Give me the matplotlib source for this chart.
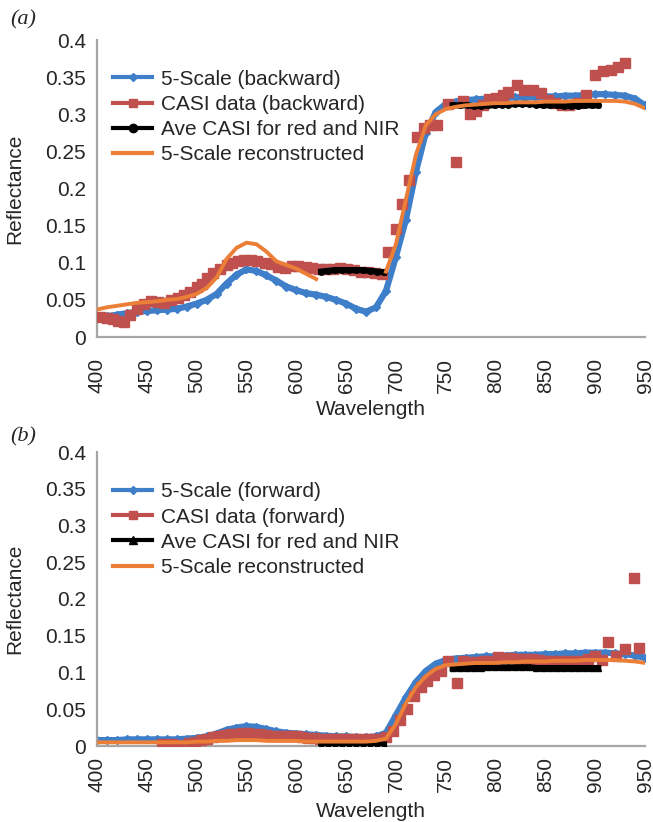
import numpy as np
import matplotlib
matplotlib.use("Agg")
import matplotlib.pyplot as plt
from matplotlib.lines import Line2D

plt.rcParams['font.family'] = ['Liberation Sans', 'DejaVu Sans']

# ---------------- data ----------------
wl_model = list(range(400, 951, 10))

# panel (a) backward
blue_a = [0.026, 0.028, 0.030, 0.032, 0.034, 0.035, 0.036, 0.037, 0.038, 0.041,
          0.045, 0.050, 0.058, 0.072, 0.084, 0.091, 0.089, 0.083, 0.076, 0.068,
          0.063, 0.059, 0.057, 0.054, 0.050, 0.045, 0.038, 0.034, 0.040, 0.062,
          0.108, 0.158, 0.222, 0.275, 0.303, 0.314, 0.317, 0.319, 0.320, 0.321,
          0.322, 0.322, 0.323, 0.323, 0.323, 0.324, 0.324, 0.325, 0.325, 0.326,
          0.327, 0.327, 0.326, 0.325, 0.321, 0.312]
orange_a = [0.037, 0.040, 0.042, 0.044, 0.046, 0.047, 0.048, 0.050, 0.051, 0.054,
            0.058, 0.066, 0.080, 0.105, 0.120, 0.127, 0.125, 0.115, 0.102, 0.097,
            0.092, 0.085, 0.078, np.nan, np.nan, np.nan, np.nan, np.nan, np.nan, 0.088,
            0.125, 0.185, 0.245, 0.285, 0.300, 0.307, 0.310, 0.312, 0.313, 0.314,
            0.315, 0.315, 0.316, 0.316, 0.316, 0.317, 0.317, 0.317, 0.318, 0.318,
            0.318, 0.318, 0.318, 0.317, 0.314, 0.308]

casi_wl_a = [403, 410, 416, 421, 427, 433, 440, 447, 454, 461, 467, 474, 481, 487, 493,
             500, 505, 510, 516, 523, 530, 535, 542, 548, 555, 561, 569, 575, 582, 589,
             596, 602, 610, 616, 623, 630, 637, 644, 651, 658, 665, 672, 679, 686, 692,
             700, 706, 713, 721, 728, 734, 741, 752, 760, 767, 774, 780, 787, 793, 800,
             807, 813, 822, 829, 838, 846, 853, 860, 867, 874, 883, 891, 900, 908, 916,
             923, 930]
casi_a = [0.027, 0.025, 0.024, 0.022, 0.020, 0.030, 0.038, 0.045, 0.048, 0.047, 0.046, 0.050, 0.052, 0.057, 0.060,
          0.068, 0.072, 0.080, 0.086, 0.092, 0.097, 0.100, 0.102, 0.104, 0.104, 0.102, 0.100, 0.098, 0.094, 0.093,
          0.095, 0.095, 0.094, 0.093, 0.092, 0.092, 0.092, 0.093, 0.092, 0.090, 0.088, 0.087, 0.086, 0.085, 0.114,
          0.145, 0.179, 0.212, 0.270, 0.282, 0.285, 0.286, 0.314, 0.236, 0.318, 0.300, 0.305, 0.313, 0.320, 0.322,
          0.326, 0.330, 0.339, 0.332, 0.333, 0.328, 0.319, 0.315, 0.313, 0.313, 0.315, 0.326, 0.353, 0.358, 0.360,
          0.363, 0.369]

ave_wl = [625, 632, 639, 646, 653, 660, 667, 674, 681, 688, np.nan,
          757, 764, 771, 778, 785, 792, 799, 806, 813, 820, 827, 834, 841, 848,
          855, 862, 869, 876, 883, 890, 897, 903]
ave_a = [0.088, 0.089, 0.090, 0.090, 0.090, 0.090, 0.090, 0.089, 0.088, 0.087, np.nan,
         0.312, 0.312, 0.312, 0.311, 0.311, 0.312, 0.312, 0.313, 0.313, 0.314, 0.314, 0.314, 0.313, 0.312,
         0.312, 0.312, 0.311, 0.311, 0.311, 0.312, 0.312, 0.312]

# panel (b) forward
blue_b = [0.008, 0.008, 0.008, 0.009, 0.009, 0.009, 0.009, 0.009, 0.009, 0.010,
          0.011, 0.013, 0.017, 0.022, 0.025, 0.027, 0.026, 0.023, 0.020, 0.018,
          0.017, 0.016, 0.015, 0.014, 0.013, 0.013, 0.012, 0.012, 0.013, 0.018,
          0.042, 0.066, 0.087, 0.102, 0.112, 0.117, 0.119, 0.120, 0.121, 0.122,
          0.122, 0.123, 0.124, 0.124, 0.124, 0.125, 0.125, 0.126, 0.126, 0.127,
          0.127, 0.127, 0.126, 0.125, 0.123, 0.120]
orange_b = [0.005, 0.005, 0.005, 0.005, 0.005, 0.005, 0.005, 0.005, 0.005, 0.005,
            0.006, 0.006, 0.007, 0.007, 0.008, 0.008, 0.008, 0.007, 0.007, 0.007,
            0.007, 0.006, 0.006, 0.006, 0.006, 0.006, 0.006, 0.006, 0.007, 0.010,
            0.030, 0.058, 0.080, 0.095, 0.105, 0.110, 0.111, 0.112, 0.113, 0.113,
            0.113, 0.114, 0.114, 0.115, 0.115, 0.115, 0.116, 0.116, 0.116, 0.117,
            0.117, 0.117, 0.117, 0.116, 0.115, 0.113]

casi_wl_b = [465, 470, 475, 480, 486, 492, 498, 504, 510, 516, 522, 528, 534, 540, 546,
             552, 558, 564, 570, 576, 582, 588, 594, 600, 606, 612, 618, 624, 630, 636,
             642, 648, 654, 660, 666, 672, 678, 684, 690, 697, 704, 711, 718, 725, 731,
             738, 745, 752, 761, 767, 774, 781, 788, 795, 802, 809, 816, 823, 830, 837,
             844, 851, 858, 865, 872, 879, 886, 893, 900, 907, 913, 921, 930, 939, 944]
casi_b = [0.003, 0.001, 0.003, 0.000, 0.002, 0.004, 0.006, 0.008, 0.010, 0.012, 0.013, 0.015, 0.016, 0.017, 0.018,
          0.018, 0.017, 0.016, 0.015, 0.014, 0.014, 0.013, 0.013, 0.013, 0.012, 0.011, 0.011, 0.010, 0.010, 0.010,
          0.009, 0.009, 0.009, 0.009, 0.009, 0.009, 0.009, 0.009, 0.012, 0.020, 0.035, 0.050, 0.068, 0.080, 0.088,
          0.097, 0.102, 0.116, 0.086, 0.116, 0.114, 0.114, 0.115, 0.116, 0.121, 0.120, 0.120, 0.119, 0.118, 0.118,
          0.117, 0.116, 0.115, 0.115, 0.115, 0.115, 0.116, 0.118, 0.123, 0.117, 0.142, 0.123, 0.132, 0.229, 0.134]

ave_b = [0.002, 0.002, 0.002, 0.002, 0.002, 0.002, 0.002, 0.002, 0.002, 0.002, np.nan,
         0.106, 0.106, 0.106, 0.106, 0.106, 0.107, 0.107, 0.107, 0.107, 0.107, 0.107, 0.107, 0.106, 0.106,
         0.106, 0.106, 0.106, 0.106, 0.106, 0.106, 0.106, 0.106]

xticks = [400, 450, 500, 550, 600, 650, 700, 750, 800, 850, 900, 950]
yticks = [0, 0.05, 0.1, 0.15, 0.2, 0.25, 0.3, 0.35, 0.4]
ytick_labels = ['0', '0.05', '0.1', '0.15', '0.2', '0.25', '0.3', '0.35', '0.4']

labels_a = ['5-Scale (backward)', 'CASI data (backward)', 'Ave CASI for red and NIR', '5-Scale reconstructed']
labels_b = ['5-Scale (forward)', 'CASI data (forward)', 'Ave CASI for red and NIR', '5-Scale reconstructed']

# ---------------- style ----------------
BLUE = '#3f7fca'
RED = '#c0504d'
BLACK = '#000000'
ORANGE = '#ec7f37'
GRAY = '#a6a6a6'
TXT = '#262626'
FS = 15

W, H = 653, 822
fig = plt.figure(figsize=(W / 100, H / 100), dpi=100)

def axes_px(left, right, top, bottom):
    return fig.add_axes([left / W, 1 - bottom / H, (right - left) / W, (bottom - top) / H])

ax_a = axes_px(97, 645, 40, 337)
ax_b = axes_px(97, 645, 452, 746)

def draw(ax, blue, orange, casi_wl, casi, ave, ave_marker, labels, xpad, leg_top, wl_label_y):
    ax.plot(wl_model, blue, color=BLUE, lw=4.5, marker='D', ms=4, mec=BLUE, zorder=2)
    ax.plot(casi_wl, casi, ls='none', marker='s', ms=6.5, color=RED, mec=RED, zorder=3)
    ax.plot(ave_wl, ave, color=BLACK, lw=4.5, marker=ave_marker, ms=4, zorder=4)
    ax.plot(wl_model, orange, color=ORANGE, lw=2.8, zorder=5)

    ax.set_xlim(400, 950)
    ax.set_ylim(0, 0.4)
    ax.set_xticks(xticks)
    ax.set_xticklabels([str(v) for v in xticks], rotation=90)
    ax.set_yticks(yticks)
    ax.set_yticklabels(ytick_labels)
    ax.tick_params(axis='both', length=0, labelsize=FS, colors=TXT)
    ax.tick_params(axis='x', pad=xpad)
    ax.tick_params(axis='y', pad=8)
    for s in ['top', 'right']:
        ax.spines[s].set_visible(False)
    for s in ['left', 'bottom']:
        ax.spines[s].set_color(GRAY)
        ax.spines[s].set_linewidth(1.6)
    ax.set_ylabel('Reflectance', fontsize=FS, color=TXT)
    ax.set_xlabel('Wavelength', fontsize=FS, color=TXT)
    ax.yaxis.set_label_coords(-0.133, 0.5)
    ax.xaxis.set_label_coords(0.5, wl_label_y)

    handles = [
        Line2D([], [], color=BLUE, lw=3, marker='D', ms=4),
        Line2D([], [], color=RED, lw=3, marker='s', ms=6),
        Line2D([], [], color=BLACK, lw=3, marker=ave_marker, ms=6),
        Line2D([], [], color=ORANGE, lw=3),
    ]
    ax.legend(handles, labels, loc='upper left', bbox_to_anchor=(0.03, leg_top),
              frameon=False, fontsize=FS, labelspacing=0.3, handlelength=1.85,
              handletextpad=0.45, borderpad=0, borderaxespad=0, labelcolor=TXT)

draw(ax_a, blue_a, orange_a, casi_wl_a, casi_a, ave_a, 'o', labels_a, 15, 0.90, -0.212)
draw(ax_b, blue_b, orange_b, casi_wl_b, casi_b, ave_b, '^', labels_b, 8, 0.897, -0.19)

fig.text(10 / W, 1 - 20 / H, '(a)', family=['Liberation Serif', 'DejaVu Serif'],
         style='italic', fontsize=16, va='center', ha='left', color=TXT)
fig.text(10 / W, 1 - 437 / H, '(b)', family=['Liberation Serif', 'DejaVu Serif'],
         style='italic', fontsize=16, va='center', ha='left', color=TXT)

fig.savefig('out.png', dpi=100, facecolor='white')
